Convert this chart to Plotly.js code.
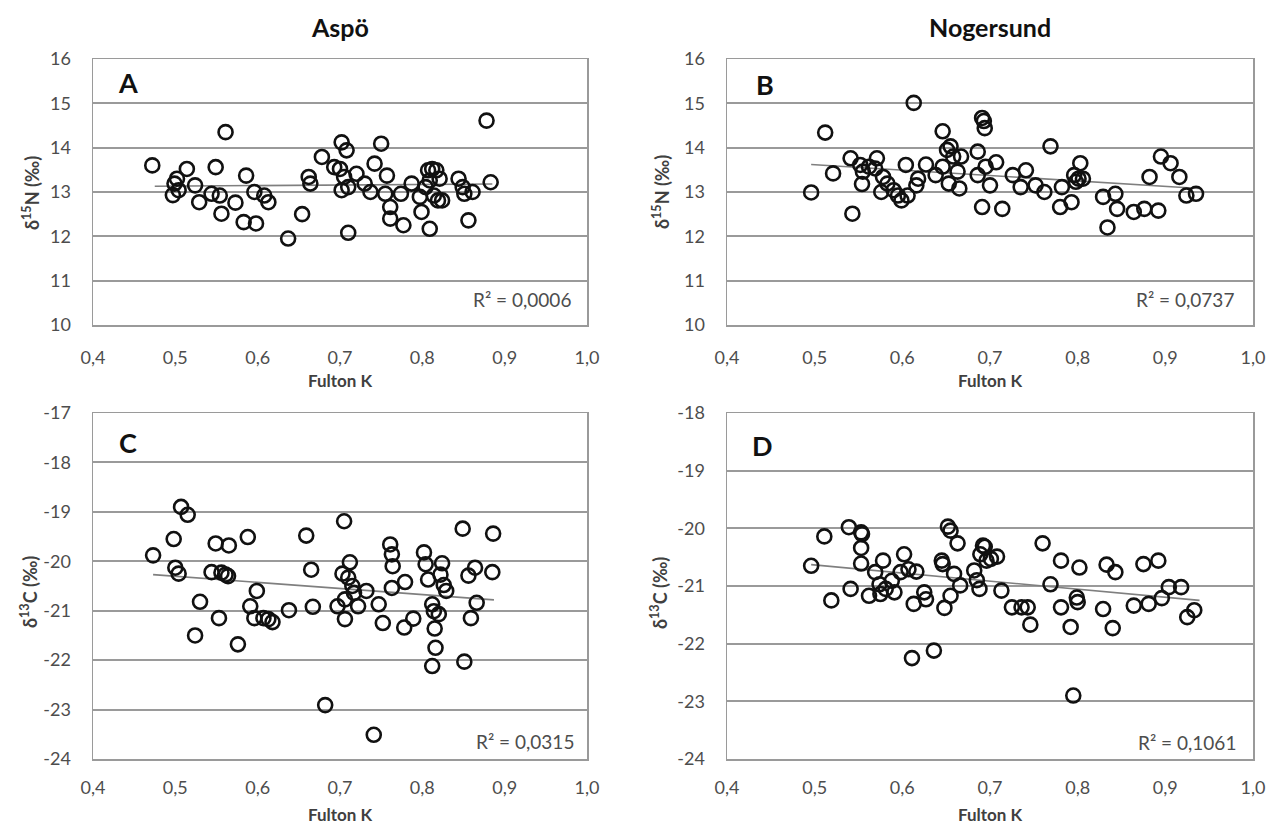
<!DOCTYPE html>
<html>
<head>
<meta charset="utf-8">
<script src="https://cdn.plot.ly/plotly-3.0.1.min.js"></script>
<style>html,body{margin:0;padding:0;background:#fff;}#chart{width:1273px;height:831px;}</style>
</head>
<body>
<div id="chart"></div>
<script>
// ---- Data ----
const siteTitles = ["Aspö", "Nogersund"];
const panelLetters = ["A", "B", "C", "D"];
const r2Labels = ["R² = 0,0006", "R² = 0,0737", "R² = 0,0315", "R² = 0,1061"];
const xTitle = "Fulton K";
const yTitleN = "δ<sup>15</sup>N (‰)";
const yTitleC = "δ<sup>13</sup>C (‰)";

const xTickVals = [0.4, 0.5, 0.6, 0.7, 0.8, 0.9, 1.0];
const xTickText = ["0,4", "0,5", "0,6", "0,7", "0,8", "0,9", "1,0"];
const yTickValsN = [10, 11, 12, 13, 14, 15, 16];
const yTickTextN = ["10", "11", "12", "13", "14", "15", "16"];
const yTickValsC_A = [-24, -23, -22, -21, -20, -19, -18, -17];
const yTickTextC_A = ["-24", "-23", "-22", "-21", "-20", "-19", "-18", "-17"];
const yTickValsC_N = [-24, -23, -22, -21, -20, -19, -18];
const yTickTextC_N = ["-24", "-23", "-22", "-21", "-20", "-19", "-18"];

// Panel A: Aspö, d15N
const aK = [0.472,0.499,0.497,0.504,0.502,0.514,0.524,0.529,0.549,0.544,0.554,0.556,0.561,0.573,0.586,0.583,0.598,0.596,0.608,0.613,0.637,0.654,0.662,0.664,0.678,0.693,0.702,0.708,0.700,0.702,0.705,0.710,0.710,0.720,0.730,0.737,0.742,0.750,0.757,0.755,0.761,0.761,0.774,0.777,0.787,0.797,0.799,0.807,0.812,0.809,0.809,0.814,0.819,0.821,0.824,0.844,0.849,0.851,0.856,0.861,0.878,0.883,0.804,0.817];
const aN = [13.60,13.19,12.93,13.04,13.30,13.52,13.15,12.77,13.56,12.96,12.92,12.51,14.35,12.76,13.37,12.32,12.29,13.00,12.92,12.77,11.95,12.50,13.34,13.19,13.79,13.56,14.12,13.94,13.52,13.04,13.34,13.11,12.08,13.41,13.19,13.00,13.64,14.09,13.37,12.96,12.66,12.40,12.96,12.25,13.19,12.89,12.55,13.49,13.52,13.26,12.17,12.92,12.81,13.30,12.81,13.30,13.11,12.96,12.36,13.00,14.61,13.22,13.11,13.49];
const aTrendK = [0.475, 0.885];
const aTrendN = [13.13, 13.18];

// Panel B: Nogersund, d15N
const bK = [0.496,0.512,0.521,0.541,0.543,0.552,0.555,0.554,0.562,0.571,0.569,0.578,0.576,0.583,0.590,0.595,0.599,0.604,0.606,0.613,0.616,0.618,0.627,0.638,0.646,0.646,0.651,0.655,0.653,0.658,0.663,0.665,0.667,0.686,0.686,0.691,0.693,0.694,0.691,0.695,0.700,0.707,0.714,0.726,0.735,0.741,0.752,0.762,0.769,0.780,0.782,0.793,0.796,0.798,0.803,0.801,0.806,0.829,0.834,0.843,0.845,0.864,0.876,0.882,0.892,0.895,0.906,0.916,0.924,0.935];
const bN = [12.99,14.34,13.42,13.76,12.51,13.61,13.46,13.18,13.57,13.76,13.53,13.34,13.00,13.19,13.04,12.92,12.81,13.61,12.92,15.01,13.15,13.30,13.62,13.38,14.37,13.57,13.95,14.03,13.19,13.80,13.46,13.08,13.80,13.91,13.38,14.67,14.60,14.44,12.66,13.57,13.15,13.67,12.62,13.38,13.11,13.49,13.15,13.00,14.03,12.66,13.11,12.77,13.38,13.23,13.65,13.30,13.30,12.89,12.20,12.96,12.62,12.55,12.62,13.34,12.58,13.80,13.65,13.34,12.92,12.96];
const bTrendK = [0.496, 0.939];
const bTrendN = [13.62, 13.08];

// Panel C: Aspö, d13C
const cK = [0.473,0.498,0.500,0.504,0.507,0.515,0.524,0.530,0.544,0.549,0.553,0.556,0.561,0.565,0.564,0.576,0.588,0.591,0.596,0.599,0.607,0.613,0.618,0.638,0.659,0.665,0.667,0.682,0.697,0.705,0.703,0.706,0.706,0.710,0.712,0.715,0.717,0.722,0.732,0.741,0.747,0.752,0.761,0.763,0.764,0.763,0.779,0.778,0.789,0.802,0.804,0.807,0.812,0.814,0.815,0.816,0.812,0.820,0.824,0.822,0.826,0.829,0.849,0.851,0.856,0.859,0.864,0.866,0.886,0.885];
const cC = [-19.88,-19.55,-20.13,-20.25,-18.90,-19.06,-21.50,-20.82,-20.22,-19.64,-21.15,-20.23,-20.27,-19.68,-20.30,-21.68,-19.51,-20.91,-21.15,-20.60,-21.15,-21.17,-21.23,-20.99,-19.48,-20.17,-20.92,-22.91,-20.91,-19.19,-20.25,-20.77,-21.17,-20.33,-20.02,-20.50,-20.64,-20.91,-20.60,-23.51,-20.87,-21.25,-19.66,-19.86,-20.10,-20.54,-20.42,-21.34,-21.16,-19.82,-20.06,-20.37,-20.87,-21.01,-21.36,-21.75,-22.12,-21.07,-20.04,-20.27,-20.48,-20.60,-19.34,-22.03,-20.29,-21.15,-20.13,-20.84,-19.44,-20.22];
const cTrendK = [0.473, 0.887];
const cTrendC = [-20.27, -20.78];

// Panel D: Nogersund, d13C
const dK = [0.496,0.511,0.519,0.539,0.541,0.553,0.554,0.553,0.553,0.562,0.569,0.574,0.578,0.575,0.581,0.588,0.591,0.598,0.602,0.607,0.611,0.613,0.616,0.625,0.627,0.636,0.645,0.646,0.648,0.652,0.655,0.655,0.659,0.663,0.666,0.682,0.685,0.688,0.689,0.692,0.694,0.696,0.701,0.708,0.713,0.725,0.736,0.743,0.746,0.760,0.769,0.781,0.781,0.792,0.795,0.799,0.800,0.802,0.829,0.833,0.840,0.843,0.864,0.875,0.881,0.892,0.896,0.904,0.918,0.925,0.933];
const dC = [-20.65,-20.14,-21.25,-19.98,-21.05,-20.07,-20.10,-20.34,-20.61,-21.17,-20.76,-20.97,-20.56,-21.14,-21.05,-20.91,-21.11,-20.76,-20.45,-20.71,-22.25,-21.31,-20.75,-21.11,-21.23,-22.12,-20.56,-20.62,-21.38,-19.97,-20.04,-21.17,-20.79,-20.26,-20.99,-20.73,-20.90,-21.05,-20.45,-20.30,-20.32,-20.56,-20.53,-20.49,-21.08,-21.37,-21.37,-21.37,-21.67,-20.26,-20.97,-20.56,-21.37,-21.71,-22.90,-21.20,-21.28,-20.68,-21.40,-20.63,-21.73,-20.76,-21.34,-20.62,-21.31,-20.56,-21.21,-21.02,-21.02,-21.54,-21.42];
const dTrendK = [0.496, 0.939];
const dTrendC = [-20.63, -21.25];

// ---- Styling / layout ----
const W = 1273, H = 831;
const px = (a, b) => [a / W, b / W];
const py = (top, bottom) => [1 - bottom / H, 1 - top / H];
const fam = "Lato, 'Open Sans', sans-serif";
const tickFont = {family: fam, size: 18, color: "#4d4d4d"};

const marker = {symbol: "circle-open", size: 14, color: "#111", line: {color: "#111", width: 2.6}};
const trendLine = {color: "#7f7f7f", width: 1.6};

function scatter(x, y, ax) {
  return {x: x, y: y, type: "scatter", mode: "markers", marker: marker,
          xaxis: "x" + ax, yaxis: "y" + ax, hoverinfo: "skip", showlegend: false};
}
function trend(x, y, ax) {
  return {x: x, y: y, type: "scatter", mode: "lines", line: trendLine,
          xaxis: "x" + ax, yaxis: "y" + ax, hoverinfo: "skip", showlegend: false};
}

const data = [
  trend(aTrendK, aTrendN, ""), scatter(aK, aN, ""),
  trend(bTrendK, bTrendN, "2"), scatter(bK, bN, "2"),
  trend(cTrendK, cTrendC, "3"), scatter(cK, cC, "3"),
  trend(dTrendK, dTrendC, "4"), scatter(dK, dC, "4")
];

function xAxis(domain, anchor, standoff) {
  return {domain: domain, anchor: anchor, range: [0.4, 1.0], tickvals: xTickVals, ticktext: xTickText,
          showgrid: false, zeroline: false, showline: true, mirror: true, linecolor: "#9a9a9a", linewidth: 1.5,
          ticks: "", ticklabelstandoff: standoff, tickfont: tickFont, automargin: false, fixedrange: true};
}
function yAxis(domain, anchor, range, vals, text) {
  return {domain: domain, anchor: anchor, range: range, tickvals: vals, ticktext: text,
          showgrid: true, gridcolor: "#9a9a9a", gridwidth: 2, zeroline: false, showline: true, mirror: true,
          linecolor: "#9a9a9a", linewidth: 1.5, ticks: "", ticklabelstandoff: 17, tickfont: tickFont,
          automargin: false, fixedrange: true};
}

const xA = px(93, 587), xB = px(727, 1253);
const yTop = py(59, 325), yBot = py(413, 759);

const layout = {
  width: W, height: H, margin: {l: 0, r: 0, t: 0, b: 0},
  paper_bgcolor: "#ffffff", plot_bgcolor: "#ffffff", showlegend: false,
  xaxis: xAxis(xA, "y", 16), yaxis: yAxis(yTop, "x", [10, 16], yTickValsN, yTickTextN),
  xaxis2: xAxis(xB, "y2", 16), yaxis2: yAxis(yTop, "x2", [10, 16], yTickValsN, yTickTextN),
  xaxis3: xAxis(xA, "y3", 12), yaxis3: yAxis(yBot, "x3", [-24, -17], yTickValsC_A, yTickTextC_A),
  xaxis4: xAxis(xB, "y4", 12), yaxis4: yAxis(yBot, "x4", [-24, -18], yTickValsC_N, yTickTextC_N),
  annotations: []
};

const ann = layout.annotations;
const paperX = p => p / W, paperY = p => 1 - p / H;
function centered(text, x, y, font, angle) {
  return {text: text, x: paperX(x), y: paperY(y), xref: "paper", yref: "paper",
          xanchor: "center", yanchor: "middle", showarrow: false, textangle: angle || 0, font: font};
}
// site titles
ann.push(centered("<b>" + siteTitles[0] + "</b>", 340, 27, {family: fam, size: 25, color: "#111"}));
ann.push(centered("<b>" + siteTitles[1] + "</b>", 990, 27, {family: fam, size: 25, color: "#111"}));
// panel letters and R2
const axes = ["", "2", "3", "4"];
const letterPos = [[0.071, 0.912], [0.072, 0.905], [0.071, 0.915], [0.067, 0.907]];
const r2Pos = [[0.972, 0.094], [0.968, 0.094], [0.977, 0.05], [0.971, 0.047]];
axes.forEach((a, i) => {
  ann.push({text: "<b>" + panelLetters[i] + "</b>", x: letterPos[i][0], y: letterPos[i][1],
            xref: "x" + a + " domain", yref: "y" + a + " domain", xanchor: "center", yanchor: "middle",
            showarrow: false, font: {family: fam, size: 27, color: "#111"}});
  ann.push({text: r2Labels[i], x: r2Pos[i][0], y: r2Pos[i][1], xanchor: "right", yanchor: "middle",
            xref: "x" + a + " domain", yref: "y" + a + " domain", showarrow: false,
            font: {family: fam, size: 19, color: "#4d4d4d"}});
});
// x titles
[[340, 380], [990, 380], [340, 814], [990, 814]].forEach(p => {
  ann.push(centered("<b>" + xTitle + "</b>", p[0], p[1], {family: fam, size: 17, color: "#404040"}));
});
// y titles
[[31, 193, yTitleN], [661, 192, yTitleN], [29, 592, yTitleC], [659, 593, yTitleC]].forEach(p => {
  ann.push(centered("<b>" + p[2] + "</b>", p[0], p[1], {family: fam, size: 18, color: "#404040"}, -90));
});

Plotly.newPlot("chart", data, layout, {displayModeBar: false, staticPlot: true});
</script>
</body>
</html>
